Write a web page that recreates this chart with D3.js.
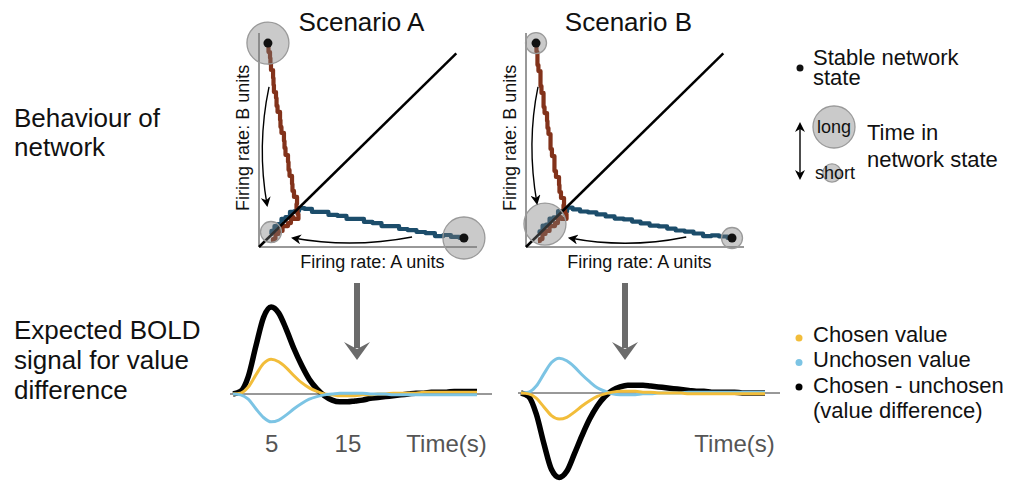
<!DOCTYPE html>
<html>
<head>
<meta charset="utf-8">
<script src="https://cdn.jsdelivr.net/npm/d3@7"></script>
<style>
body { margin: 0; background: #fff; }
svg { font-family: "Liberation Sans", Arial, Helvetica, sans-serif; }
</style>
</head>
<body>
<svg id="chart" width="1010" height="481"></svg>
<script>
// ---- data ----
const scenarios = ["Scenario A", "Scenario B"];

// firing rates (A units, B units) along the noisy trajectories, 0-100
const redA = [[4.1,94.9],[4.6,91.1],[5.5,88.3],[5.0,85.5],[6.0,82.7],[6.9,79.0],[6.4,75.7],[7.3,72.4],[8.3,69.6],[7.8,65.9],[9.2,63.1],[10.1,59.3],[9.6,56.1],[11.0,53.3],[11.9,49.5],[11.5,46.3],[12.8,43.0],[13.8,39.7],[13.3,36.0],[14.7,33.2],[15.6,29.4],[15.1,26.2],[17.0,23.4],[17.9,20.1],[16.5,17.8],[18.8,15.4],[17.4,13.1],[14.2,14.0],[15.1,11.2],[11.5,9.8],[10.1,7.5],[7.8,6.1],[7.3,3.7],[5.5,2.8]];
const blueA = [[94.0,4.2],[89.9,4.7],[86.2,5.6],[83.0,5.1],[78.4,6.5],[74.3,7.0],[70.2,7.9],[66.1,8.4],[62.4,9.8],[58.3,9.8],[54.1,11.2],[50.0,11.7],[46.3,13.1],[42.2,13.1],[38.1,14.5],[33.9,15.0],[29.8,16.4],[26.1,16.4],[22.5,17.8],[19.3,18.2],[17.4,16.8],[15.1,16.4],[13.3,14.0],[11.0,13.1],[9.6,10.7],[7.8,9.8],[6.4,7.5],[5.0,6.1]];
const redB = [[4.6,94.9],[5.0,91.1],[5.5,88.3],[5.0,85.0],[6.4,82.2],[6.9,78.5],[6.4,75.2],[7.8,72.0],[8.3,68.7],[7.8,65.4],[9.2,62.6],[10.1,58.9],[9.6,55.6],[11.0,52.8],[11.5,49.1],[11.0,45.8],[12.8,42.5],[13.3,39.3],[12.8,35.5],[14.7,32.7],[15.6,29.0],[15.1,25.7],[17.0,22.9],[17.9,19.6],[16.5,17.8],[19.3,15.4],[17.9,13.1],[14.2,14.0],[15.1,11.2],[11.5,9.8],[10.1,7.5],[7.8,6.1],[7.3,3.7],[5.5,2.8]];
const blueB = [[94.5,4.2],[90.4,4.9],[86.7,5.4],[83.5,5.1],[78.9,6.3],[74.8,7.2],[70.7,7.7],[66.6,8.6],[62.9,9.6],[58.8,10.0],[54.6,11.0],[50.5,11.9],[46.8,12.9],[42.7,13.3],[38.6,14.3],[34.4,15.2],[30.3,16.2],[26.6,16.6],[23.0,17.6],[19.8,18.4],[17.9,16.6],[15.6,16.8],[13.8,13.8],[11.5,13.3],[10.1,10.5],[8.3,10.0],[6.9,7.3],[5.5,6.3]];

// network states: firing rates, time spent (a.u.), stable point or not
const statesA = [
  {a: 4.1, b: 95.3, dwell: 4, stable: true},
  {a: 94.0, b: 4.2, dwell: 4, stable: true},
  {a: 5.5, b: 7.0, dwell: 1, stable: false}
];
const statesB = [
  {a: 4.6, b: 95.3, dwell: 1, stable: true},
  {a: 94.5, b: 4.2, dwell: 1, stable: true},
  {a: 8.7, b: 10.7, dwell: 4, stable: false}
];

// expected BOLD signal (a.u.) sampled every second
const timeSec = [0,1,2,3,4,5,6,7,8,9,10,11,12,13,14,15,16,17,18,19,20,21,22,23,24,25,26,27,28,29,30,31,32];
const diffA     = [0,0.03,0.2,0.55,0.88,1.0,0.93,0.74,0.52,0.33,0.17,0.06,-0.02,-0.07,-0.09,-0.09,-0.08,-0.07,-0.05,-0.04,-0.03,-0.02,-0.01,0,0.01,0.01,0.02,0.02,0.02,0.03,0.03,0.03,0.03];
const chosenA   = [0,0.01,0.08,0.22,0.35,0.4,0.37,0.3,0.21,0.13,0.07,0.03,0,-0.01,-0.02,-0.02,-0.02,-0.01,-0.01,0,0,0.01,0.01,0.01,0.01,0.02,0.02,0.02,0.02,0.02,0.02,0.02,0.02];
const unchosenA = [0,-0.01,-0.06,-0.17,-0.27,-0.32,-0.3,-0.24,-0.17,-0.11,-0.06,-0.03,-0.01,0,0.01,0.01,0.01,0.01,0,0,0,-0.01,-0.01,-0.01,-0.01,-0.01,-0.01,-0.01,-0.01,-0.01,-0.01,-0.01,-0.01];
const diffB     = [0,-0.04,-0.24,-0.58,-0.88,-0.97,-0.9,-0.7,-0.49,-0.3,-0.15,-0.04,0.03,0.07,0.09,0.09,0.09,0.08,0.07,0.06,0.05,0.04,0.03,0.02,0.02,0.01,0.01,0.01,0.01,0,0,0,0];
const chosenB   = [0,-0.01,-0.06,-0.16,-0.26,-0.3,-0.28,-0.22,-0.15,-0.09,-0.04,-0.01,0.01,0.02,0.02,0.02,0.01,0.01,0,0,0,0,-0.01,-0.01,-0.01,-0.01,-0.01,-0.01,-0.01,-0.01,-0.01,-0.01,-0.01];
const unchosenB = [0,0.01,0.08,0.22,0.35,0.4,0.37,0.3,0.21,0.13,0.06,0.02,-0.01,-0.02,-0.02,-0.02,-0.01,-0.01,0,0,0,0,0.01,0.01,0.01,0.01,0.01,0.01,0.01,0.01,0.01,0.01,0.01];
const timeTicks = [5, 15];

const seriesNames = ["Chosen value", "Unchosen value", "Chosen - unchosen", "(value difference)"];

// ---- styles / layout ----
const colRed = "#82321a", colBlue = "#1c4d6b";
const colChosen = "#f2bd3a", colUnchosen = "#7cc4e4", colDiff = "#000";
const font = 22;

const panels = [
  {title: scenarios[0], left: 259, red: redA, blue: blueA, states: statesA,
   arrows: [{from: [4.6, 74.8], ctrl: [-1.1, 47.2], to: [3.7, 19.6]},
            {from: [70.2, 4.7], ctrl: [42.7, -0.7], to: [15.6, 4.2]}],
   boldLeft: 233, zero: 394, ticks: timeTicks, arrowX: 357,
   bold: [[diffA, colDiff, 5.5], [chosenA, colChosen, 3], [unchosenA, colUnchosen, 3]]},
  {title: scenarios[1], left: 526, red: redB, blue: blueB, states: statesB,
   arrows: [{from: [5.5, 74.8], ctrl: [0.2, 48.6], to: [5.0, 20.6]},
            {from: [73.5, 4.7], ctrl: [46.6, -0.9], to: [20.1, 4.2]}],
   boldLeft: 521, zero: 393, ticks: [], arrowX: 625,
   bold: [[diffB, colDiff, 5.5], [unchosenB, colUnchosen, 3], [chosenB, colChosen, 3]]}
];

const svg = d3.select("#chart");

const defs = svg.append("defs");
defs.append("marker")
    .attr("id", "head")
    .attr("viewBox", "0 0 10 10")
    .attr("refX", 8).attr("refY", 5)
    .attr("markerWidth", 10).attr("markerHeight", 10)
    .attr("markerUnits", "userSpaceOnUse")
    .attr("orient", "auto-start-reverse")
    .append("path")
    .attr("d", "M0,0 L10,5 L0,10 L3,5 Z")
    .attr("fill", "#000");

const rScale = d3.scaleSqrt().domain([0, 4]).range([0, 21]);

function drawPhasePlane(p) {
    const w = 218, h = 214;
    const x = d3.scaleLinear().domain([0, 100]).range([0, w]);
    const y = d3.scaleLinear().domain([0, 100]).range([h, 0]);
    const g = svg.append("g").attr("transform", `translate(${p.left},33)`);

    g.append("text")
        .attr("x", x(47)).attr("y", -2)
        .attr("text-anchor", "middle")
        .attr("font-size", 26)
        .attr("fill", "#111")
        .text(p.title);

    // L shaped axes
    g.append("path")
        .attr("d", `M0,0V${h}H${w}`)
        .attr("fill", "none")
        .attr("stroke", "#333")
        .attr("stroke-width", 1);

    g.append("text")
        .attr("x", x(52)).attr("y", h + 21)
        .attr("text-anchor", "middle")
        .attr("font-size", 18)
        .attr("fill", "#111")
        .text("Firing rate: A units");
    g.append("text")
        .attr("transform", `translate(-10,${y(51)}) rotate(-90)`)
        .attr("text-anchor", "middle")
        .attr("font-size", 18)
        .attr("fill", "#111")
        .text("Firing rate: B units");

    const traj = d3.line()
        .x(d => x(d[0]))
        .y(d => y(d[1]))
        .curve(d3.curveStep);

    g.append("path").datum(p.blue)
        .attr("d", traj)
        .attr("fill", "none")
        .attr("stroke", colBlue)
        .attr("stroke-width", 4.2)
        .attr("stroke-linejoin", "round");
    g.append("path").datum(p.red)
        .attr("d", traj)
        .attr("fill", "none")
        .attr("stroke", colRed)
        .attr("stroke-width", 4.2)
        .attr("stroke-linejoin", "round");

    // diagonal a = b
    g.append("line")
        .attr("x1", x(0)).attr("y1", y(0))
        .attr("x2", x(90.5)).attr("y2", y(90.5))
        .attr("stroke", "#000")
        .attr("stroke-width", 2.5);

    g.selectAll("circle.state")
        .data(p.states)
        .enter()
        .append("circle")
        .attr("class", "state")
        .attr("cx", d => x(d.a))
        .attr("cy", d => y(d.b))
        .attr("r", d => rScale(d.dwell))
        .attr("fill", "#7a7a7a")
        .attr("fill-opacity", 0.4)
        .attr("stroke", "#9a9a9a")
        .attr("stroke-width", 1.3);

    g.selectAll("circle.dot")
        .data(p.states.filter(d => d.stable))
        .enter()
        .append("circle")
        .attr("class", "dot")
        .attr("cx", d => x(d.a))
        .attr("cy", d => y(d.b))
        .attr("r", 4.5)
        .attr("fill", "#111");

    g.selectAll("path.arrow")
        .data(p.arrows)
        .enter()
        .append("path")
        .attr("class", "arrow")
        .attr("d", d => `M${x(d.from[0])},${y(d.from[1])}Q${x(d.ctrl[0])},${y(d.ctrl[1])} ${x(d.to[0])},${y(d.to[1])}`)
        .attr("fill", "none")
        .attr("stroke", "#000")
        .attr("stroke-width", 1.4)
        .attr("marker-end", "url(#head)");
}

function drawGrayArrow(cx) {
    const g = svg.append("g").attr("fill", "#6b6b6b");
    g.append("rect")
        .attr("x", cx - 3).attr("y", 283)
        .attr("width", 6).attr("height", 65);
    g.append("path")
        .attr("d", `M${cx - 13},342 L${cx},349 L${cx + 13},342 L${cx},360 Z`);
}

function drawBold(p) {
    const x = d3.scaleLinear().domain([0, 32]).range([p.boldLeft, p.boldLeft + 244]);
    const y = d3.scaleLinear().domain([-1, 1]).range([p.zero + 87, p.zero - 87]);
    const g = svg.append("g");

    g.append("line")
        .attr("x1", x(0) - 3).attr("x2", x(32) + 15)
        .attr("y1", y(0)).attr("y2", y(0))
        .attr("stroke", "#333")
        .attr("stroke-width", 1);

    const line = d3.line()
        .x((d, i) => x(timeSec[i]))
        .y(d => y(d))
        .curve(d3.curveMonotoneX);

    p.bold.forEach(([values, color, width]) => {
        g.append("path").datum(values)
            .attr("d", line)
            .attr("fill", "none")
            .attr("stroke", color)
            .attr("stroke-width", width)
            .attr("stroke-linecap", "butt");
    });

    const axis = d3.axisBottom(x).tickValues(p.ticks).tickSize(0).tickPadding(5);
    const ax = g.append("g")
        .attr("transform", "translate(0,430)")
        .call(axis);
    ax.select(".domain").remove();
    ax.selectAll("text")
        .attr("font-size", 24)
        .attr("font-family", "Liberation Sans, Arial, sans-serif")
        .attr("fill", "#555");

    g.append("text")
        .attr("x", x(28)).attr("y", 452)
        .attr("text-anchor", "middle")
        .attr("font-size", 24)
        .attr("fill", "#555")
        .text("Time(s)");

    drawGrayArrow(p.arrowX);
}

panels.forEach(p => {
    drawPhasePlane(p);
    drawBold(p);
});

// row labels
function multiline(x, y0, step, lines, size) {
    const t = svg.append("text")
        .attr("font-size", size)
        .attr("fill", "#111");
    lines.forEach((s, i) => {
        t.append("tspan").attr("x", x).attr("y", y0 + i * step).text(s);
    });
}
multiline(14, 127, 29, ["Behaviour of", "network"], 26);
multiline(14, 339, 30, ["Expected BOLD", "signal for value", "difference"], 26);

// legend, network states
svg.append("circle").attr("cx", 800).attr("cy", 68).attr("r", 3.5).attr("fill", "#111");
multiline(813, 65, 20, ["Stable network", "state"], font);

svg.append("line")
    .attr("x1", 800).attr("x2", 800)
    .attr("y1", 124).attr("y2", 178)
    .attr("stroke", "#000")
    .attr("stroke-width", 1.4)
    .attr("marker-start", "url(#head)")
    .attr("marker-end", "url(#head)");

const legendDwell = [4, 0.75];
svg.selectAll("circle.legend")
    .data(legendDwell)
    .enter()
    .append("circle")
    .attr("class", "legend")
    .attr("cx", (d, i) => i === 0 ? 834 : 832)
    .attr("cy", (d, i) => i === 0 ? 127 : 173)
    .attr("r", d => rScale(d))
    .attr("fill", "#7a7a7a")
    .attr("fill-opacity", 0.4)
    .attr("stroke", "#9a9a9a")
    .attr("stroke-width", 1.3);
svg.append("text").attr("x", 834).attr("y", 133).attr("text-anchor", "middle")
    .attr("font-size", 18).attr("fill", "#111").text("long");
svg.append("text").attr("x", 815).attr("y", 179)
    .attr("font-size", 18).attr("fill", "#111").text("short");
multiline(867, 140, 27, ["Time in", "network state"], font);

// legend, BOLD series
const legendColors = [colChosen, colUnchosen, colDiff];
svg.selectAll("circle.series")
    .data(legendColors)
    .enter()
    .append("circle")
    .attr("class", "series")
    .attr("cx", 799)
    .attr("cy", (d, i) => 338 + i * 24.5)
    .attr("r", 3.5)
    .attr("fill", d => d);
multiline(813, 342, 25.3, seriesNames, font);
</script>
</body>
</html>
